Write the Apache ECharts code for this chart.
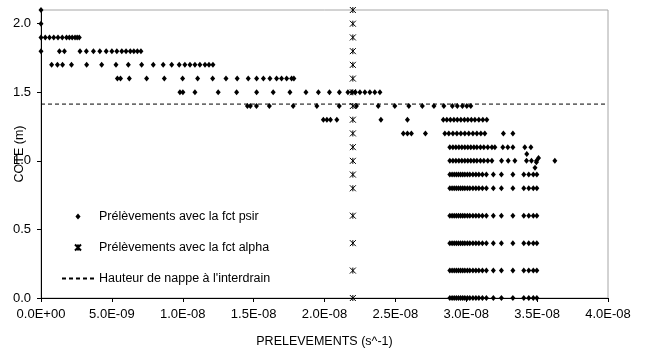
<!DOCTYPE html>
<html><head><meta charset="utf-8">
<script src="https://cdn.jsdelivr.net/npm/echarts@6/dist/echarts.min.js"></script>
<style>html,body{margin:0;padding:0;background:#fff}#c{width:646px;height:354px}</style>
</head><body><div id="c"></div>
<script>
// Y levels (COTE, m)
const levels = [2.1, 2.0, 1.9, 1.8, 1.7, 1.6, 1.5, 1.4, 1.3, 1.2, 1.1, 1.0, 0.9, 0.8, 0.6, 0.4, 0.2, 0.0];
// psir: PRELEVEMENTS values (s^-1) per level
const psir_21 = [0];
const psir_20 = [0];
const psir_19 = [0, 0.03e-8, 0.06e-8, 0.09e-8, 0.12e-8, 0.15e-8, 0.18e-8, 0.2e-8, 0.22e-8, 0.24e-8, 0.255e-8, 0.27e-8];
const psir_18 = [0, 0.13e-8, 0.165e-8, 0.275e-8, 0.32e-8, 0.37e-8, 0.415e-8, 0.46e-8, 0.5e-8, 0.535e-8, 0.57e-8, 0.6e-8, 0.63e-8, 0.655e-8, 0.68e-8, 0.705e-8];
const psir_17 = [0.075e-8, 0.116e-8, 0.152e-8, 0.215e-8, 0.322e-8, 0.428e-8, 0.529e-8, 0.616e-8, 0.71e-8, 0.792e-8, 0.862e-8, 0.922e-8, 0.975e-8, 1.015e-8, 1.051e-8, 1.086e-8, 1.121e-8, 1.157e-8, 1.185e-8, 1.213e-8];
const psir_16 = [0.539e-8, 0.561e-8, 0.623e-8, 0.745e-8, 0.87e-8, 0.999e-8, 1.105e-8, 1.211e-8, 1.305e-8, 1.384e-8, 1.462e-8, 1.521e-8, 1.569e-8, 1.615e-8, 1.662e-8, 1.697e-8, 1.733e-8, 1.768e-8, 1.784e-8];
const psir_15 = [0.98e-8, 1.001e-8, 1.086e-8, 1.25e-8, 1.38e-8, 1.521e-8, 1.638e-8, 1.756e-8, 1.869e-8, 1.957e-8, 2.035e-8, 2.105e-8, 2.165e-8, 2.193e-8, 2.218e-8, 2.25e-8, 2.285e-8, 2.32e-8, 2.355e-8, 2.391e-8];
const psir_14 = [1.456e-8, 1.477e-8, 1.52e-8, 1.611e-8, 1.779e-8, 1.946e-8, 2.104e-8, 2.225e-8, 2.379e-8, 2.496e-8, 2.595e-8, 2.69e-8, 2.772e-8, 2.842e-8, 2.902e-8, 2.937e-8, 2.973e-8, 3.004e-8, 3.032e-8];
const psir_13 = [1.992e-8, 2.017e-8, 2.042e-8, 2.087e-8, 2.398e-8, 2.585e-8, 2.838e-8, 2.863e-8, 2.888e-8, 2.913e-8, 2.937e-8, 2.962e-8, 2.987e-8, 3.011e-8, 3.036e-8, 3.061e-8, 3.089e-8, 3.117e-8, 3.145e-8];
const psir_12 = [2.556e-8, 2.585e-8, 2.613e-8, 2.712e-8, 2.849e-8, 2.877e-8, 2.906e-8, 2.934e-8, 2.962e-8, 2.99e-8, 3.018e-8, 3.047e-8, 3.075e-8, 3.103e-8, 3.131e-8, 3.262e-8, 3.329e-8];
const psir_11 = [2.884e-8, 2.906e-8, 2.927e-8, 2.948e-8, 2.969e-8, 2.99e-8, 3.011e-8, 3.032e-8, 3.054e-8, 3.075e-8, 3.1e-8, 3.124e-8, 3.152e-8, 3.181e-8, 3.202e-8, 3.258e-8, 3.293e-8, 3.329e-8, 3.413e-8, 3.456e-8];
const psir_10 = [2.884e-8, 2.906e-8, 2.927e-8, 2.948e-8, 2.969e-8, 2.99e-8, 3.011e-8, 3.032e-8, 3.054e-8, 3.075e-8, 3.1e-8, 3.124e-8, 3.152e-8, 3.181e-8, 3.249e-8, 3.296e-8, 3.343e-8, 3.425e-8, 3.46e-8, 3.496e-8, 3.625e-8];
const psir_low = [2.884e-8, 2.9e-8, 2.915e-8, 2.93e-8, 2.945e-8, 2.96e-8, 2.975e-8, 2.99e-8, 3.008e-8, 3.025e-8, 3.047e-8, 3.068e-8, 3.089e-8, 3.114e-8, 3.142e-8, 3.191e-8, 3.248e-8, 3.329e-8, 3.406e-8, 3.441e-8, 3.473e-8, 3.498e-8];
const psirRows = [psir_21, psir_20, psir_19, psir_18, psir_17, psir_16, psir_15, psir_14, psir_13, psir_12, psir_11, psir_10, psir_low, psir_low, psir_low, psir_low, psir_low, psir_low];
// extra isolated psir points [x, y]
const psirExtra = [[3.427e-8, 1.05], [3.51e-8, 1.02], [3.495e-8, 0.99], [3.485e-8, 0.95]];
// alpha: single PRELEVEMENTS value at every level
const alphaX = 2.2e-8;
const alphaLevels = [2.1, 2.0, 1.9, 1.8, 1.7, 1.6, 1.5, 1.4, 1.3, 1.2, 1.1, 1.0, 0.9, 0.8, 0.6, 0.4, 0.2, 0.0];
// water table height
const nappe = 1.414;
const xTicks = ['0.0E+00', '5.0E-09', '1.0E-08', '1.5E-08', '2.0E-08', '2.5E-08', '3.0E-08', '3.5E-08', '4.0E-08'];

const psirData = [];
levels.forEach((y, i) => psirRows[i].forEach(x => psirData.push([x, y])));
psirExtra.forEach(p => psirData.push(p));
const alphaData = alphaLevels.map(y => [alphaX, y]);

const FONT = 'Liberation Sans';
const chart = echarts.init(document.getElementById('c'), null, {renderer: 'canvas'});
chart.setOption({
  animation: false,
  textStyle: {fontFamily: FONT, color: '#000'},
  grid: {left: 41, right: 38, top: 10, bottom: 56, containLabel: false, outerBoundsMode: 'none',
    show: true, borderColor: '#a6a6a6', borderWidth: 1},
  legend: {
    orient: 'vertical', left: 61, top: 210, padding: 0, itemWidth: 32, itemHeight: 6, itemGap: 18,
    textStyle: {fontFamily: FONT, fontSize: 12.5, color: '#000'},
    data: [
      {name: 'Prélèvements avec la fct psir', icon: 'path://M3,0L6,3.5L3,7L0,3.5Z'},
      {name: 'Prélèvements avec la fct alpha'},
      {name: "Hauteur de nappe à l'interdrain", itemStyle: {color: 'rgba(0,0,0,0)', borderWidth: 0}}
    ]
  },
  xAxis: {
    type: 'value', min: 0, max: 4e-8, interval: 5e-9,
    name: 'PRELEVEMENTS (s^-1)', nameLocation: 'middle', nameGap: 37, nameMoveOverlap: false,
    nameTextStyle: {fontFamily: FONT, fontSize: 12.5, color: '#000'},
    axisLine: {onZero: false, lineStyle: {color: '#000', width: 1}},
    axisTick: {show: true, length: 4, lineStyle: {color: '#000'}},
    axisLabel: {margin: 10, fontFamily: FONT, fontSize: 13, color: '#000',
      formatter: v => xTicks[Math.round(v / 5e-9)] || ''},
    splitLine: {show: false}
  },
  yAxis: {
    type: 'value', min: 0, max: 2.1, interval: 0.5,
    name: 'COTE (m)', nameLocation: 'middle', nameGap: 15, nameRotate: 90, nameMoveOverlap: false,
    nameTextStyle: {fontFamily: FONT, fontSize: 12.5, color: '#000'},
    axisLine: {onZero: false, lineStyle: {color: '#000', width: 1}},
    axisTick: {show: true, length: 4, lineStyle: {color: '#000'}},
    axisLabel: {margin: 10, fontFamily: FONT, fontSize: 13, color: '#000', showMaxLabel: false,
      formatter: v => v.toFixed(1)},
    splitLine: {show: false}
  },
  series: [
    {
      name: 'Prélèvements avec la fct psir', type: 'scatter', data: psirData,
      symbol: 'diamond', symbolSize: [5, 6], itemStyle: {color: '#000', opacity: 1}, z: 3
    },
    {
      name: 'Prélèvements avec la fct alpha', type: 'scatter', data: alphaData,
      symbol: 'path://M0,0L6,6M6,0L0,6M3,0L3,6', symbolSize: [6, 6],
      itemStyle: {color: 'rgba(0,0,0,0)', borderColor: '#000', borderWidth: 1, opacity: 1}, z: 4
    },
    {
      name: "Hauteur de nappe à l'interdrain", type: 'line', data: [[0, nappe], [4e-8, nappe]],
      symbol: 'none', lineStyle: {color: '#000', width: 1, type: [4, 3]}, itemStyle: {color: '#000'}, z: 2
    }
  ]
});
</script></body></html>
